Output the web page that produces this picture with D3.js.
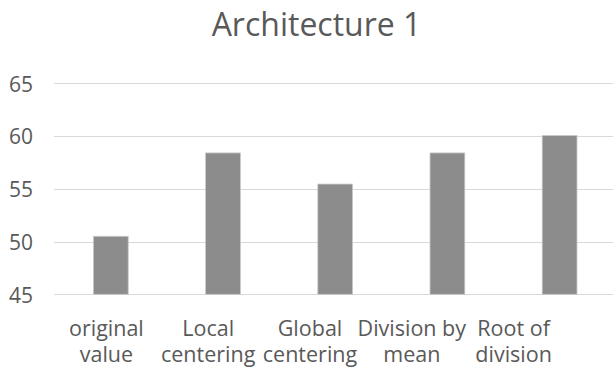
<!DOCTYPE html>
<html><head><meta charset="utf-8">
<script src="https://cdn.jsdelivr.net/npm/d3@7"></script>
<style>body{margin:0;background:#fff}svg{display:block}</style>
</head><body>
<svg id="c" width="613" height="369"></svg>
<script>
const categories = [["original","value"],["Local","centering"],["Global","centering"],["Division by","mean"],["Root of","division"]];
const values = [50.5, 58.4, 55.45, 58.4, 60.05];
const yTicks = [45, 50, 55, 60, 65];
const title = "Architecture 1";

const W = 613, H = 369;
const svg = d3.select("#c");
const font = "Open Sans, Lato, sans-serif";
const idx = d3.range(categories.length);
const x = d3.scaleBand().domain(idx).range([54.7, 615.7]);
const xl = d3.scaleBand().domain(idx).range([55.5, 564.5]);
const y = d3.scaleLinear().domain([45, 65]).range([294.3, 83.3]);
const bw = x.bandwidth() * 0.31;

// gridlines
svg.append("g").selectAll("line").data(yTicks).join("line")
  .attr("x1", 54).attr("x2", W).attr("y1", d => Math.round(y(d)) + 0.5).attr("y2", d => Math.round(y(d)) + 0.5)
  .attr("stroke", "#d9d9d9").attr("stroke-width", 1);

// y tick labels
svg.append("g").selectAll("text").data(yTicks).join("text")
  .attr("x", 33).attr("y", d => y(d) + 1).attr("dy", "0.35em").attr("text-anchor", "end")
  .attr("font-family", font).attr("font-size", 21).attr("fill", "#595959").text(d => d);

// bars
svg.append("g").selectAll("rect").data(values).join("rect")
  .attr("x", (d, i) => x(i) + x.bandwidth() / 2 - bw / 2).attr("width", bw)
  .attr("y", d => y(d)).attr("height", d => y(45) - y(d))
  .attr("fill", "#8c8c8c").attr("stroke", "#c8c8c8").attr("stroke-width", 0.8);

// category labels
const cl = svg.append("g").selectAll("text").data(categories).join("text")
  .attr("text-anchor", "middle").attr("font-family", font).attr("font-size", 21.5).attr("fill", "#595959");
cl.each(function(d, i) {
  const t = d3.select(this);
  d.forEach((line, j) => {
    t.append("tspan").attr("x", xl(i) + xl.bandwidth() / 2).attr("y", 336 + j * 26).text(line);
  });
});

// title
svg.append("text").attr("x", 316.5).attr("y", 36).attr("text-anchor", "middle")
  .attr("font-family", font).attr("font-size", 32).attr("fill", "#595959").text(title);
</script>
</body></html>
